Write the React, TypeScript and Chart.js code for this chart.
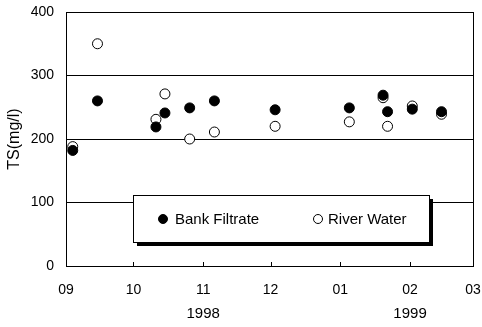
import React, { useEffect, useRef } from 'react';
import { Chart, registerables } from 'chart.js';

Chart.register(...registerables);

// ---- data ----
const sampleDates = [
  '1998-09-04', '1998-09-15', '1998-10-11', '1998-10-15', '1998-10-26', '1998-11-06',
  '1998-12-03', '1999-01-05', '1999-01-20', '1999-01-22', '1999-02-02', '1999-02-15',
];
const bankFiltrate = [182, 260, 219, 241, 249, 260, 246, 249, 269, 243, 247, 243];
const riverWater = [188, 350, 231, 271, 200, 211, 220, 227, 265, 220, 252, 239];

const monthTickDates = ['1998-09-01', '1998-10-01', '1998-11-01', '1998-12-01', '1999-01-01', '1999-02-01', '1999-03-01'];
const monthTickLabels = ['09', '10', '11', '12', '01', '02', '03'];
const yearLabelDates = ['1998-11-01', '1999-02-01'];
const yearLabels = ['1998', '1999'];
const yTicks = [0, 100, 200, 300, 400];
const seriesNames = ['Bank Filtrate', 'River Water'];
const yTitle = 'TS(mg/l)';

const FONT = '"Liberation Sans", Arial, sans-serif';

function dayOf(s: string): number {
  const [y, m, d] = s.split('-').map(Number);
  return (Date.UTC(y, m - 1, d) - Date.UTC(1998, 8, 1)) / 86400000;
}

const framePlugin = {
  id: 'frame',
  afterDatasetsDraw(chart: any) {
    const { ctx, chartArea, scales } = chart;
    const { left, right, top, bottom } = chartArea;
    ctx.save();
    ctx.strokeStyle = '#000';
    ctx.lineWidth = 1;
    ctx.strokeRect(Math.round(left) + 0.5, Math.round(top) + 0.5, Math.round(right - left), Math.round(bottom - top));
    const xs = scales.x;
    ctx.beginPath();
    monthTickDates.forEach((d) => {
      const x = Math.round(xs.getPixelForValue(dayOf(d))) + 0.5;
      ctx.moveTo(x, bottom);
      ctx.lineTo(x, bottom - 4);
    });
    ctx.stroke();
    ctx.fillStyle = '#000';
    ctx.font = `15px ${FONT}`;
    ctx.textAlign = 'center';
    ctx.textBaseline = 'middle';
    yearLabelDates.forEach((d, i) => {
      ctx.fillText(yearLabels[i], xs.getPixelForValue(dayOf(d)), 314);
    });
    ctx.restore();
  },
};

const boxLegendPlugin = {
  id: 'boxLegend',
  afterDraw(chart: any) {
    const { ctx, scales } = chart;
    const xs = scales.x;
    const ys = scales.y;
    const bx = Math.round(xs.getPixelForValue(30));
    const by = Math.round(ys.getPixelForValue(112));
    const bw = 296;
    const bh = 47;
    ctx.save();
    ctx.fillStyle = '#000';
    ctx.fillRect(bx + 4, by + 4, bw, bh);
    ctx.fillStyle = '#fff';
    ctx.fillRect(bx, by, bw, bh);
    ctx.strokeStyle = '#000';
    ctx.lineWidth = 1;
    ctx.strokeRect(bx + 0.5, by + 0.5, bw, bh);
    const cy = by + 24;
    const items = [
      { mx: bx + 30, tx: bx + 42 },
      { mx: bx + 185, tx: bx + 195 },
    ];
    ctx.font = `15px ${FONT}`;
    ctx.textBaseline = 'middle';
    ctx.textAlign = 'left';
    chart.data.datasets.forEach((ds: any, i: number) => {
      const it = items[i];
      ctx.beginPath();
      ctx.arc(it.mx, cy, 4.5, 0, Math.PI * 2);
      ctx.fillStyle = ds.pointBackgroundColor;
      ctx.fill();
      ctx.strokeStyle = '#000';
      ctx.lineWidth = 1;
      ctx.stroke();
      ctx.fillStyle = '#000';
      ctx.fillText(ds.label, it.tx, cy + 1);
    });
    ctx.restore();
  },
};

export default function App() {
  const ref = useRef<HTMLCanvasElement>(null);
  useEffect(() => {
    if (!ref.current) return;
    const chart = new Chart(ref.current, {
      type: 'scatter',
      data: {
        datasets: [
          {
            label: seriesNames[0],
            data: sampleDates.map((d, i) => ({ x: dayOf(d), y: bankFiltrate[i] })),
            pointBackgroundColor: '#000',
            pointBorderColor: '#000',
            pointBorderWidth: 1,
            pointRadius: 5,
          },
          {
            label: seriesNames[1],
            data: sampleDates.map((d, i) => ({ x: dayOf(d), y: riverWater[i] })),
            pointBackgroundColor: '#fff',
            pointBorderColor: '#000',
            pointBorderWidth: 1,
            pointRadius: 5,
          },
        ],
      },
      options: {
        animation: false,
        responsive: false,
        devicePixelRatio: 1,
        layout: { padding: { top: 12, right: 9, bottom: 0, left: 0 } },
        plugins: { legend: { display: false }, tooltip: { enabled: false } },
        scales: {
          x: {
            type: 'linear',
            min: dayOf(monthTickDates[0]),
            max: dayOf(monthTickDates[monthTickDates.length - 1]),
            grid: { display: false, drawTicks: false },
            border: { display: false },
            afterBuildTicks: (scale: any) => {
              scale.ticks = monthTickDates.map((d) => ({ value: dayOf(d) }));
            },
            afterFit: (scale: any) => {
              scale.height = 61;
              scale.paddingLeft = 0;
              scale.paddingRight = 0;
            },
            ticks: {
              autoSkip: false,
              maxRotation: 0,
              padding: 16,
              color: '#000',
              font: { family: FONT, size: 14 },
              callback: (_v: any, i: number) => monthTickLabels[i],
            },
          },
          y: {
            min: yTicks[0],
            max: yTicks[yTicks.length - 1],
            grid: { color: '#000', lineWidth: 1, drawTicks: false },
            border: { display: false },
            afterBuildTicks: (scale: any) => {
              scale.ticks = yTicks.map((v) => ({ value: v }));
            },
            afterFit: (scale: any) => {
              scale.width = 66;
              scale.paddingTop = 0;
              scale.paddingBottom = 0;
            },
            title: {
              display: true,
              text: yTitle,
              color: '#000',
              font: { family: FONT, size: 16 },
              padding: { top: 5, bottom: 0 },
            },
            ticks: {
              padding: 12,
              color: '#000',
              font: { family: FONT, size: 14 },
            },
          },
        },
      },
      plugins: [framePlugin, boxLegendPlugin],
    } as any);
    return () => chart.destroy();
  }, []);
  return (
    <div style={{ position: 'fixed', left: 0, top: 0, width: 482, height: 327, background: '#fff' }}>
      <canvas ref={ref} width={482} height={327} />
    </div>
  );
}
